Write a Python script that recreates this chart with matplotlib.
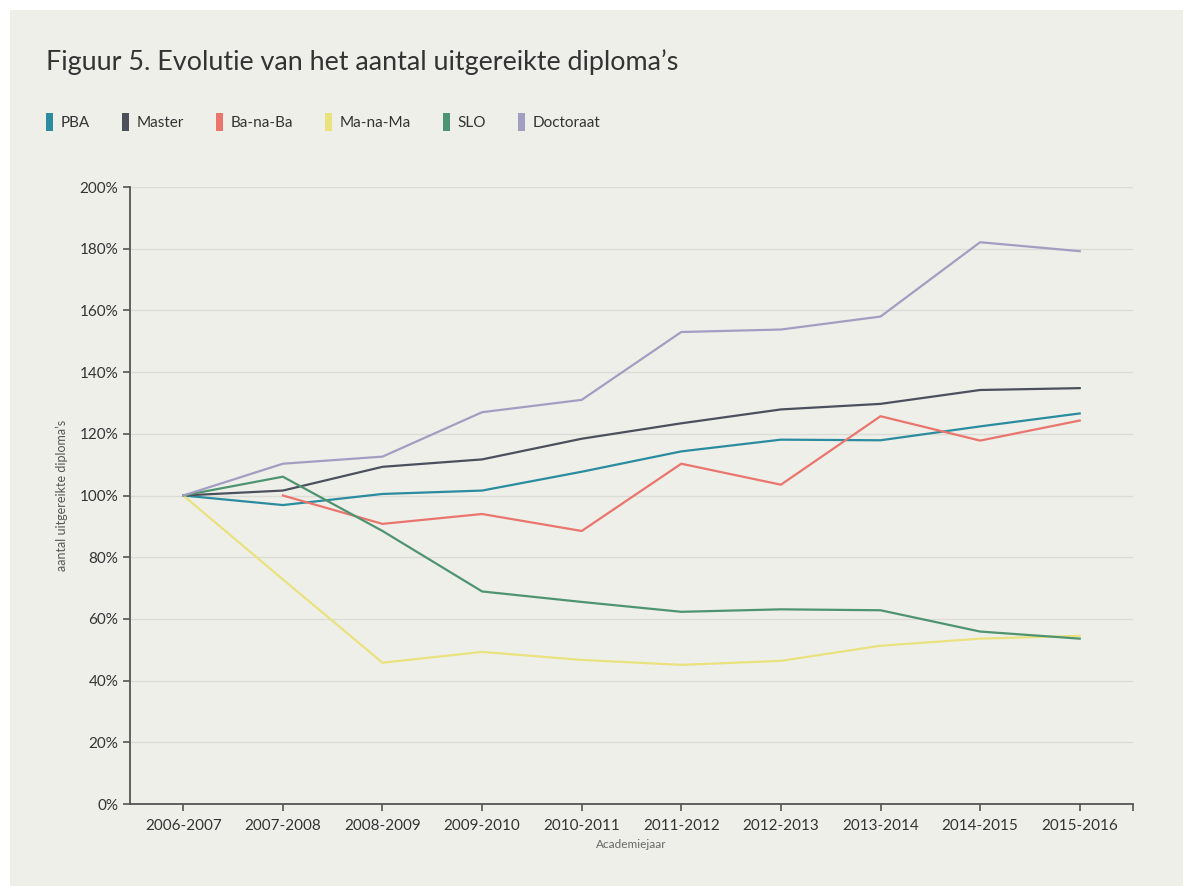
import matplotlib.pyplot as plt
from matplotlib.patches import Rectangle
from matplotlib.ticker import FuncFormatter
import numpy as np

# academiejaren en reeksen (index 2006-2007 = 100%)
jaren = ['2006-2007', '2007-2008', '2008-2009', '2009-2010', '2010-2011',
         '2011-2012', '2012-2013', '2013-2014', '2014-2015', '2015-2016']

pba = [100, 96.9, 100.5, 101.6, 107.7, 114.3, 118.1, 117.9, 122.4, 126.6]
master = [100, 101.6, 109.3, 111.7, 118.4, 123.4, 127.9, 129.7, 134.2, 134.8]
banaba = [np.nan, 100, 90.8, 94.0, 88.5, 110.3, 103.5, 125.7, 117.8, 124.3]
manama = [100, 72.8, 45.8, 49.3, 46.7, 45.1, 46.4, 51.3, 53.6, 54.5]
slo = [100, 106.1, 88.5, 68.9, 65.5, 62.3, 63.1, 62.8, 55.9, 53.6]
doctoraat = [100, 110.3, 112.6, 127.0, 131.0, 153.0, 153.8, 158.0, 182.1, 179.2]

namen = ['PBA', 'Master', 'Ba-na-Ba', 'Ma-na-Ma', 'SLO', 'Doctoraat']
kleuren = ['#2a8c9e', '#4b505c', '#e9756c', '#e9e27e', '#4f9470', '#a29ec2']
reeksen = [pba, master, banaba, manama, slo, doctoraat]

plt.rcParams['font.family'] = ['Lato', 'DejaVu Sans']

bg = '#efefea'
fig = plt.figure(figsize=(11.84, 8.86), dpi=100, facecolor='white')
fig.patches.append(Rectangle((10 / 1184, 0), 1 - 11 / 1184, 1 - 10 / 886,
                             transform=fig.transFigure, facecolor=bg,
                             edgecolor='none', zorder=-10))

ax = fig.add_axes([130 / 1184, (886 - 804) / 886, 1003 / 1184, 617 / 886])
ax.set_facecolor(bg)

x = np.arange(len(jaren))
for reeks, kleur, naam in zip(reeksen, kleuren, namen):
    ax.plot(x, reeks, color=kleur, lw=1.6, label=naam, zorder=3)

ax.set_xlim(-0.535, 9.535)
ax.set_ylim(0, 200)
ax.set_yticks(np.arange(0, 201, 20))
ax.yaxis.set_major_formatter(FuncFormatter(lambda v, p: '%d%%' % v))
ax.set_xticks(x)
ax.set_xticklabels(jaren)
ax.set_xticks([9.535], minor=True)

ax.grid(axis='y', color='#dcdcd6', lw=1, zorder=1)
ax.set_axisbelow(True)
for s in ['top', 'right']:
    ax.spines[s].set_visible(False)
for s in ['left', 'bottom']:
    ax.spines[s].set_color('#555555')
    ax.spines[s].set_linewidth(1.3)
ax.tick_params(axis='both', which='both', direction='out', length=5,
               width=1.2, color='#555555', labelsize=11, labelcolor='#333333')
ax.tick_params(axis='x', pad=6)

ax.set_ylabel('aantal uitgereikte diploma’s', fontsize=9, color='#555555',
              labelpad=8)
ax.set_xlabel('Academiejaar', fontsize=8.5, color='#666666', labelpad=4)

fig.text(46 / 1184, 1 - 62 / 886,
         'Figuur 5. Evolutie van het aantal uitgereikte diploma’s',
         fontsize=19.4, color='#333333', va='center', ha='left')

handles = [Rectangle((0, 0), 1, 1, facecolor=k, edgecolor='none') for k in kleuren]
fig.legend(handles, namen, loc='center left',
           bbox_to_anchor=(46 / 1184, 1 - 122 / 886), ncol=6, frameon=False,
           fontsize=11, handlelength=0.45, handleheight=1.4, handletextpad=0.5,
           columnspacing=2.1, borderpad=0, borderaxespad=0,
           labelcolor='#333333')

fig.savefig('out.png', dpi=100, facecolor='white')
